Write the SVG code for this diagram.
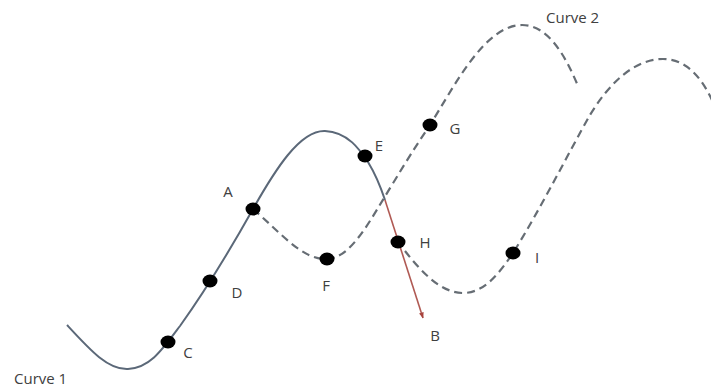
<svg xmlns="http://www.w3.org/2000/svg" width="711" height="387" viewBox="0 0 711 387">
<defs>
<marker id="arr" viewBox="0 0 10 10" refX="9" refY="5" markerWidth="6" markerHeight="6" orient="auto" markerUnits="userSpaceOnUse">
<path d="M0,1 L10,5 L0,9 Z" fill="#a9443e"/>
</marker>
</defs>
<style>
.solid{fill:none;stroke:#5b6878;stroke-width:2}
.dash{fill:none;stroke:#666d74;stroke-width:2.2;stroke-dasharray:8 5}
.red{fill:none;stroke:#b05a54;stroke-width:1.6}
.dot{fill:#000}
.lbl{font-family:"Open Sans","Liberation Sans",sans-serif;font-size:15px;fill:#404040;text-anchor:middle}
.cap{font-family:"Open Sans","Liberation Sans",sans-serif;font-size:15px;fill:#404040}
</style>
<rect width="711" height="387" fill="#fff"/>
<g id="connectors">
<path id="curve1" class="solid" d="M67,325 C90,350 108,370 128,369 C150,368 162,350 180,326 C200,298 230,250 253,209 C275,170 300,130 325,131 C348,132 360,150 368,162 C376,175 381,188 385,200"/>
<path id="curve2a" class="dash" d="M253,209 C280,232 302,260 327,259 C352,258 370,220 395,180 C410,155 420,140 430,125 C455,85 485,25 522,25 C548,25 565,55 578,86"/>
<path id="curve2b" class="dash" d="M405,251 C420,270 440,293 463,293 C485,293 500,272 513,253 C540,210 570,150 590,115 C610,82 635,59 663,59 C685,59 700,75 712,100"/>
<path id="tangent" class="red" d="M385,200 L423,318" marker-end="url(#arr)"/>
</g>
<g id="node-A"><ellipse class="dot" cx="253" cy="209" rx="7.5" ry="6.5"/><text class="lbl" x="228" y="197">A</text></g>
<g id="node-B"><text class="lbl" x="435" y="341">B</text></g>
<g id="node-C"><ellipse class="dot" cx="168" cy="342" rx="7.5" ry="6.5"/><text class="lbl" x="188" y="358">C</text></g>
<g id="node-D"><ellipse class="dot" cx="210" cy="281" rx="7.5" ry="6.5"/><text class="lbl" x="237" y="298">D</text></g>
<g id="node-E"><ellipse class="dot" cx="365" cy="156" rx="7.5" ry="6.5"/><text class="lbl" x="379" y="151">E</text></g>
<g id="node-F"><ellipse class="dot" cx="327" cy="259" rx="7.5" ry="6.5"/><text class="lbl" x="326" y="291">F</text></g>
<g id="node-G"><ellipse class="dot" cx="430" cy="125" rx="7.5" ry="6.5"/><text class="lbl" x="455" y="134">G</text></g>
<g id="node-H"><ellipse class="dot" cx="398" cy="242" rx="7.5" ry="6.5"/><text class="lbl" x="425" y="248">H</text></g>
<g id="node-I"><ellipse class="dot" cx="513" cy="253" rx="7.5" ry="6.5"/><text class="lbl" x="537" y="263">I</text></g>
<g id="label-curve1"><text class="cap" x="14" y="384">Curve 1</text></g>
<g id="label-curve2"><text class="cap" x="546" y="23">Curve 2</text></g>
</svg>
